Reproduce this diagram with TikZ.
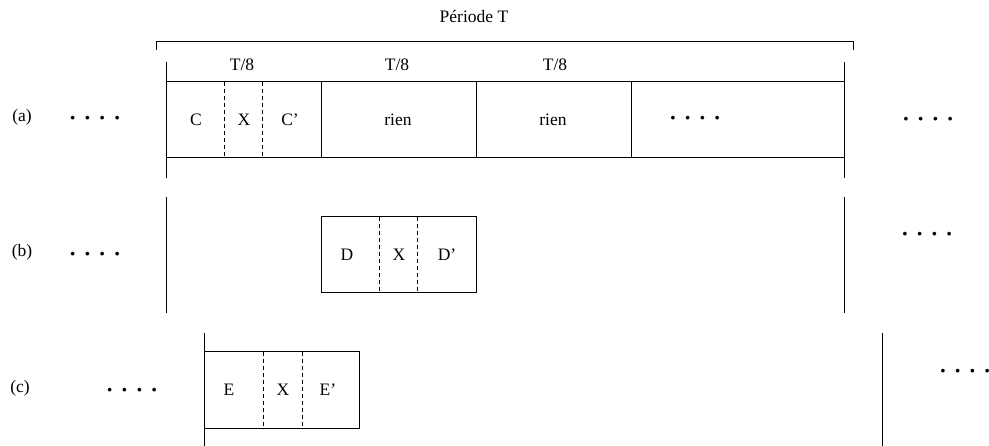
\documentclass[tikz,border=0pt]{standalone}
\usepackage{fontspec}
\setmainfont{Liberation Serif}
\newcommand{\onedot}{\scalebox{0.55}{$\bullet$}}
\newcommand{\fourdots}{\onedot\hspace{10pt}\onedot\hspace{10pt}\onedot\hspace{10pt}\onedot}
\begin{document}
\begin{tikzpicture}[x=1pt,y=-1pt,line width=1pt,
  lbl/.style={font=\fontsize{17.5}{20}\selectfont,inner sep=0pt},
  dsh/.style={dash pattern=on 4pt off 3pt}]
\useasboundingbox (0,0) rectangle (989,446);
% bracket "Periode T"
\coordinate (bl) at (156,50);
\coordinate (br) at (853,50);
\draw (bl) |- (br |- 0,42) -- (br);
\node[lbl] (per) at (474,17) {Période T};
\node[lbl] (t1) at (242,65) {T/8};
\node[lbl] (t2) at (397,65) {T/8};
\node[lbl] (t3) at (555,65) {T/8};
% row (a)
\node[lbl] (la) at (22,117) {(a)};
\node[lbl] (dal) at (95,118) {\fourdots};
\draw (166,62) -- (166,178);
\draw (844,62) -- (844,178);
\draw (166,82) rectangle (844,158);
\draw (321,82) -- (321,158);
\draw (476,82) -- (476,158);
\draw (631,82) -- (631,158);
\draw[dsh] (224,82) -- (224,158);
\draw[dsh] (262,82) -- (262,158);
\node[lbl] (ca) at (196,120) {C};
\node[lbl] (xa) at (244,120) {X};
\node[lbl] (cpa) at (290,120) {C'};
\node[lbl] (r1) at (398,120) {rien};
\node[lbl] (r2) at (553,120) {rien};
\node[lbl] (dam) at (695,118) {\fourdots};
\node[lbl] (dar) at (928,119) {\fourdots};
% row (b)
\node[lbl] (lb) at (22,252) {(b)};
\node[lbl] (dbl) at (95,254) {\fourdots};
\draw (166,197) -- (166,313);
\draw (844,197) -- (844,313);
\draw (321,217) rectangle (476,293);
\draw[dsh] (379,217) -- (379,293);
\draw[dsh] (417,217) -- (417,293);
\node[lbl] (db) at (347,255) {D};
\node[lbl] (xb) at (399,255) {X};
\node[lbl] (dpb) at (447,255) {D'};
\node[lbl] (dbr) at (927,234) {\fourdots};
% row (c)
\node[lbl] (lc) at (20,388) {(c)};
\node[lbl] (dcl) at (132,390) {\fourdots};
\draw (204,333) -- (204,446);
\draw (882,333) -- (882,446);
\draw (204,352) rectangle (359,429);
\draw[dsh] (263,352) -- (263,429);
\draw[dsh] (302,352) -- (302,429);
\node[lbl] (ec) at (229,390) {E};
\node[lbl] (xc) at (283,390) {X};
\node[lbl] (epc) at (328,390) {E'};
\node[lbl] (dcr) at (965,371) {\fourdots};
\end{tikzpicture}
\end{document}
